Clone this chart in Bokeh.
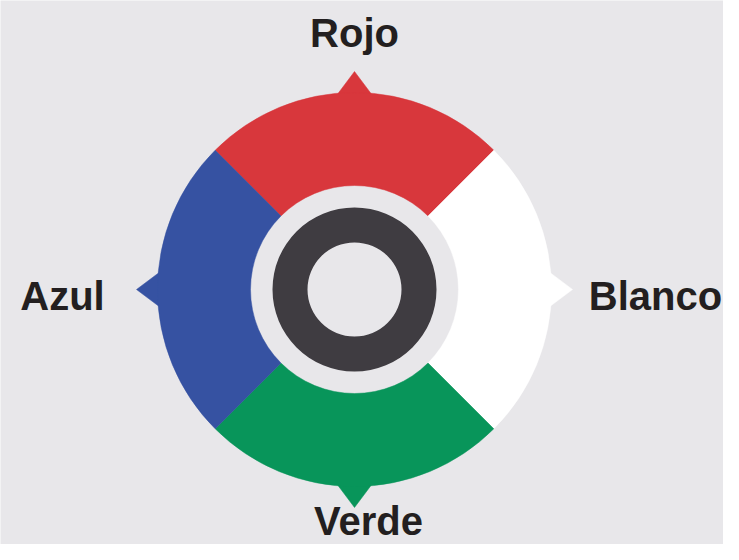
import numpy as np
from bokeh.plotting import figure
from bokeh.models import Range1d, ColumnDataSource
from bokeh.core.properties import value
from bokeh.embed import file_html
from bokeh.resources import INLINE

# ---- data ----
categories = ["Rojo", "Blanco", "Verde", "Azul"]
directions_deg = [90, 0, 270, 180]          # compass direction of each segment
colors = ["#d8373c", "#ffffff", "#08955a", "#3652a2"]
label_x = [354, 655, 368, 62]
label_y = [512, 249, 24, 249]

BG = "#e8e7ea"
DARK = "#3f3c41"
W, H = 723, 544
cx, cy = 354, 255
r_in, r_out = 104, 197
tip_r, base_r, half_w = 218, 190, 21

p = figure(width=W, height=H, x_range=Range1d(0, W), y_range=Range1d(0, H),
           output_backend="svg", toolbar_location=None, min_border=0,
           background_fill_color=BG, border_fill_color=BG, outline_line_color=None)
p.axis.visible = False
p.xgrid.visible = False
p.ygrid.visible = False

rad = np.radians(directions_deg)
src = ColumnDataSource(dict(
    x=[cx] * 4, y=[cy] * 4,
    start=list(rad - np.pi / 4), end=list(rad + np.pi / 4),
    color=colors))

# pointers
xs, ys = [], []
for a in rad:
    ux, uy = np.cos(a), np.sin(a)
    vx, vy = -uy, ux
    xs.append([cx + base_r * ux + half_w * vx, cx + tip_r * ux, cx + base_r * ux - half_w * vx])
    ys.append([cy + base_r * uy + half_w * vy, cy + tip_r * uy, cy + base_r * uy - half_w * vy])
p.patches(xs, ys, fill_color=colors, line_color=colors, line_width=0.5)

p.annular_wedge(x="x", y="y", inner_radius=r_in, outer_radius=r_out,
                start_angle="start", end_angle="end", fill_color="color",
                line_color="color", line_width=0.5, source=src)

# center ring
p.annulus(x=[cx], y=[cy], inner_radius=47, outer_radius=82,
          fill_color=DARK, line_color=None)

p.text(x=label_x, y=label_y, text=categories, text_align="center",
       text_baseline="alphabetic", text_font=value("Liberation Sans"),
       text_font_style="bold", text_font_size="40px", text_color="#231f20")

open("out.html", "w").write(file_html(p, INLINE))
